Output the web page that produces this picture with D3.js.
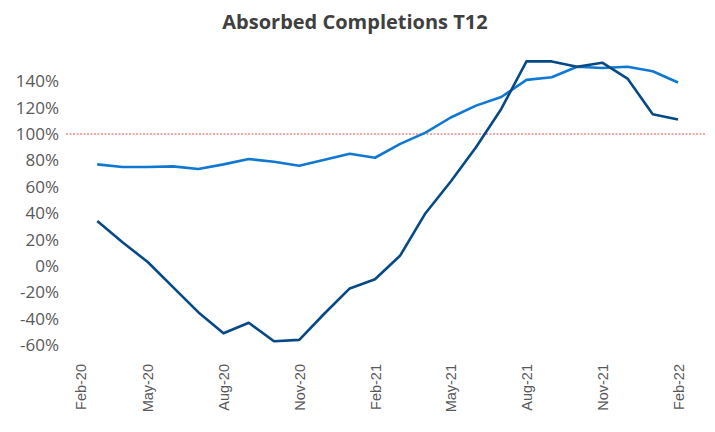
<!DOCTYPE html>
<html>
<head>
<meta charset="utf-8">
<script src="https://cdn.jsdelivr.net/npm/d3@7"></script>
<style>
  body { margin: 0; background: #fff; }
</style>
</head>
<body>
<div class="main"></div>
<script>
// months on the axis (first one has no data)
let months = ["Feb-20","Mar-20","Apr-20","May-20","Jun-20","Jul-20","Aug-20","Sep-20","Oct-20","Nov-20","Dec-20","Jan-21",
              "Feb-21","Mar-21","Apr-21","May-21","Jun-21","Jul-21","Aug-21","Sep-21","Oct-21","Nov-21","Dec-21","Jan-22","Feb-22"];
let tickLabels = ["Feb-20","May-20","Aug-20","Nov-20","Feb-21","May-21","Aug-21","Nov-21","Feb-22"];
let yTicks = [-60,-40,-20,0,20,40,60,80,100,120,140];

// dark series
let seriesDark = [null, 34, 18, 3, -16, -35, -51, -43, -57, -56, -36, -17,
                  -10, 8, 40, 64, 90, 119, 155, 155, 151, 154, 142, 115, 111];
// light series
let seriesLight = [null, 77, 75, 75, 75.5, 73.5, 77, 81, 79, 76, 80.5, 85,
                   82, 92.5, 101, 112.5, 121.5, 128, 141, 143, 151, 150, 151, 147.5, 139];

let target = 100;

let width = 715, height = 432;

let svg = d3.select("div.main").append("svg")
  .attr("width", width)
  .attr("height", height)
  .style("font-family", "'Open Sans', sans-serif");

let x = d3.scalePoint()
  .domain(months)
  .range([72, 678]);

let y = d3.scaleLinear()
  .domain([-60, 140])
  .range([345.2, 81.2]);

// title
svg.append("text")
  .text("Absorbed Completions T12")
  .attr("x", 355)
  .attr("y", 29)
  .attr("text-anchor", "middle")
  .attr("font-size", "20px")
  .attr("font-weight", "bold")
  .attr("fill", "#404040");

// y axis labels (no line, no ticks)
let yAxis = d3.axisLeft(y)
  .tickValues(yTicks)
  .tickSize(0)
  .tickPadding(0)
  .tickFormat(d => d + "%");

let yg = svg.append("g")
  .attr("transform", "translate(59,0)")
  .call(yAxis);
yg.select(".domain").remove();
yg.selectAll("text")
  .attr("font-family", "'Open Sans', sans-serif")
  .attr("font-size", "17px")
  .attr("fill", "#595959");

// x axis labels, rotated
let xAxis = d3.axisBottom(x)
  .tickValues(tickLabels)
  .tickSize(0)
  .tickPadding(0);

let xg = svg.append("g")
  .attr("transform", "translate(0,364)")
  .call(xAxis);
xg.select(".domain").remove();
// first label sits a bit inside the plot edge, like the original
xg.selectAll("text")
  .attr("font-family", "'Liberation Sans', Arial, sans-serif")
  .attr("font-size", "14.5px")
  .attr("fill", "#595959")
  .attr("text-anchor", "end")
  .attr("dy", "0.35em")
  .attr("x", 0)
  .attr("y", 0)
  .attr("transform", (d, i) => "translate(" + (i == 0 ? 8 : 0) + ",0)rotate(-90)");

// target line at 100%
svg.append("line")
  .attr("x1", 66)
  .attr("x2", 705)
  .attr("y1", y(target))
  .attr("y2", y(target))
  .attr("stroke", "#f08c8c")
  .attr("stroke-width", 1.5)
  .attr("stroke-dasharray", "2,1.5");

let line = d3.line()
  .defined(d => d.v != null)
  .x(d => x(d.m))
  .y(d => y(d.v));

svg.append("path")
  .datum(months.map((m, i) => ({m: m, v: seriesLight[i]})))
  .attr("d", line)
  .attr("fill", "none")
  .attr("stroke", "#0f78d2")
  .attr("stroke-width", 2.6)
  .attr("stroke-linejoin", "round");

svg.append("path")
  .datum(months.map((m, i) => ({m: m, v: seriesDark[i]})))
  .attr("d", line)
  .attr("fill", "none")
  .attr("stroke", "#064a85")
  .attr("stroke-width", 2.6)
  .attr("stroke-linejoin", "round");
</script>
</body>
</html>
